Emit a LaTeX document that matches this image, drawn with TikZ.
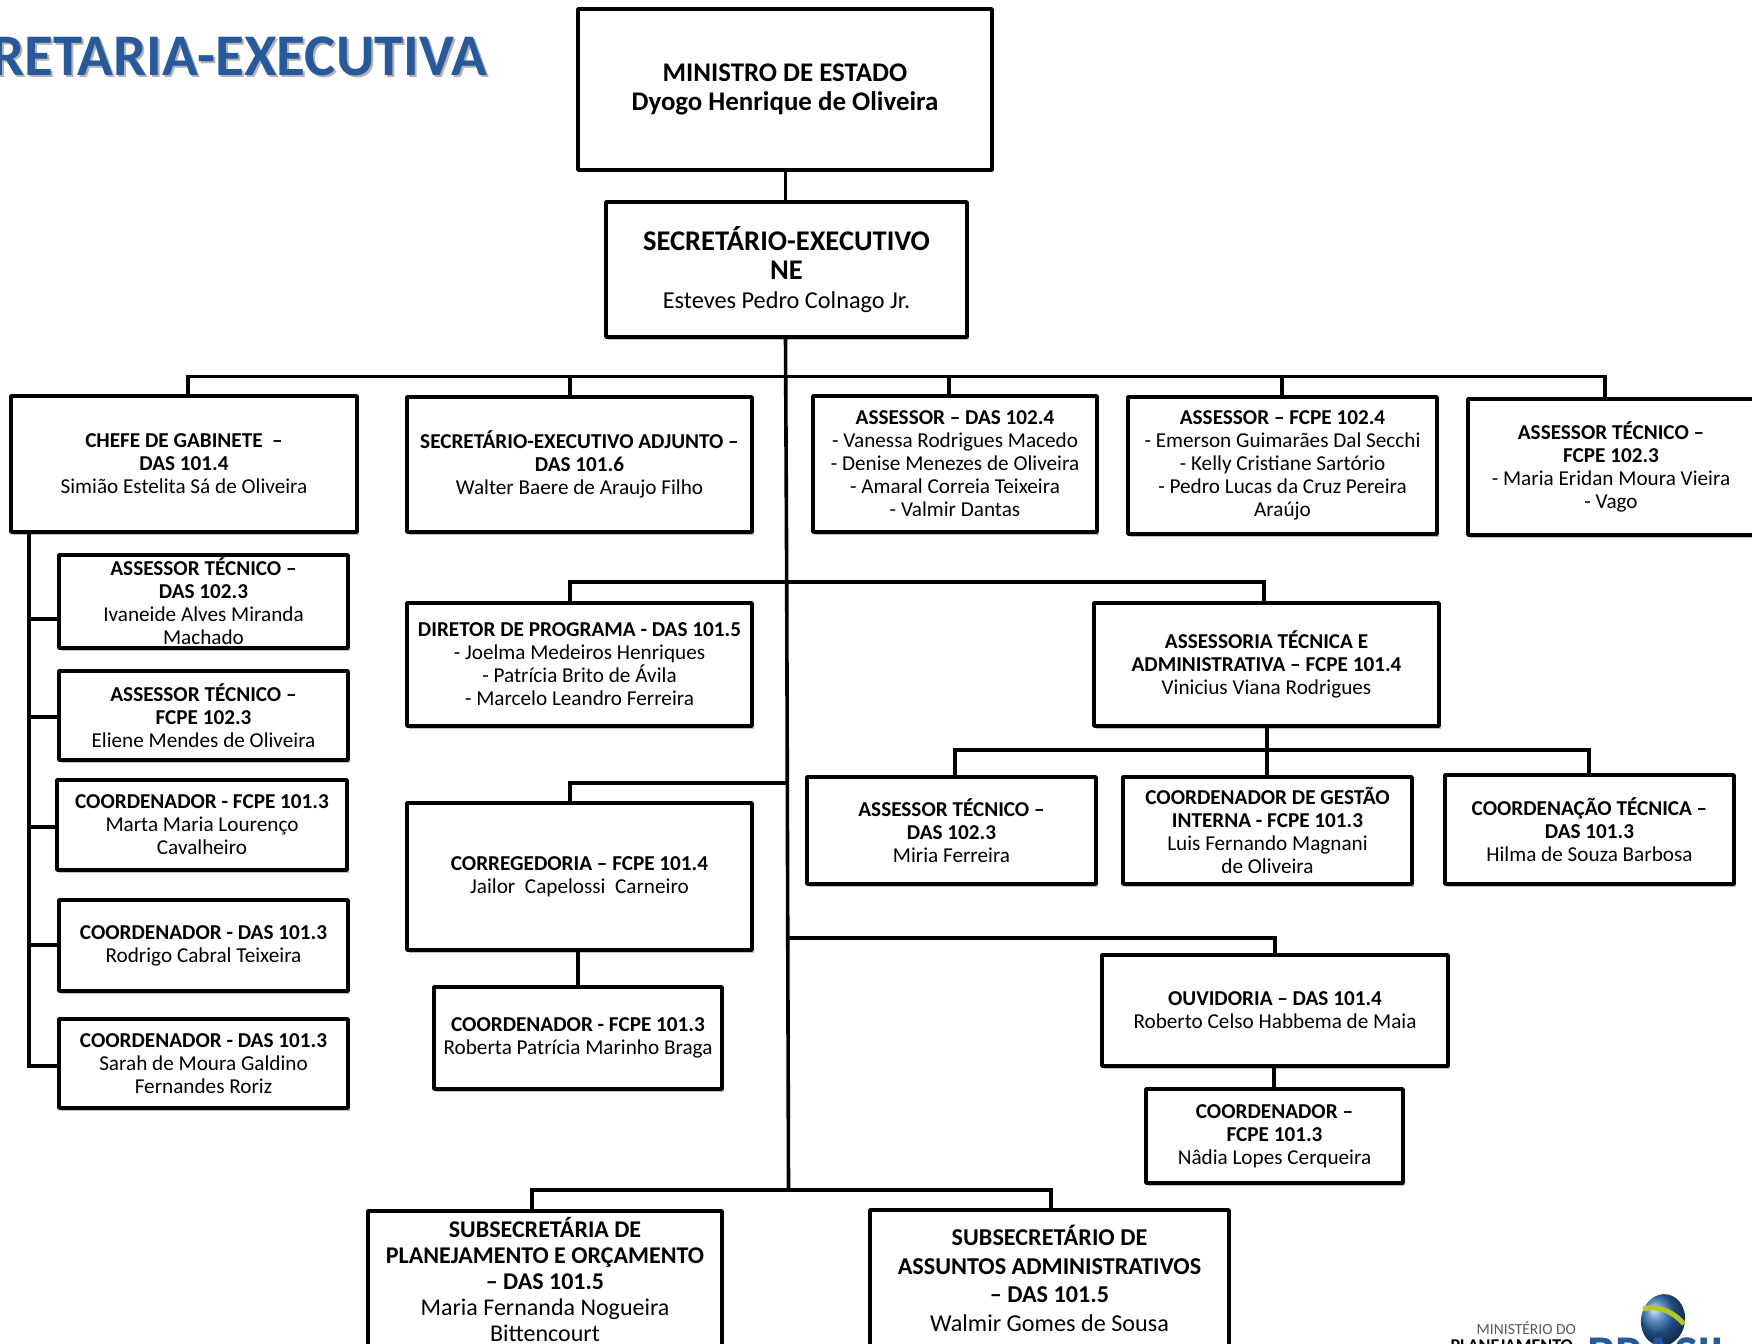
\documentclass[tikz,border=0pt]{standalone}
\usepackage{fontspec}
\setmainfont{Carlito}
\usetikzlibrary{shadows,calc}
\definecolor{titleblue}{HTML}{28599B}
\definecolor{globeblue}{HTML}{2A68AE}
\definecolor{globeband}{HTML}{B4C62A}
\newcommand\ob[7]{% name x0 y0 x1 y1 fontstyle text
  \pgfmathsetmacro\cxx{(#2+#4)/2}\pgfmathsetmacro\cyy{(#3+#5)/2}%
  \pgfmathsetmacro\wxx{#4-#2}\pgfmathsetmacro\hyy{#5-#3}%
  \node[orgbox,#6,minimum width=\wxx pt,minimum height=\hyy pt] (#1) at (\cxx,\cyy) {#7};}
\newcommand\bn{\bfseries}
\newcommand\nr{\normalfont}
\tikzset{
  orgbox/.style={draw=black,fill=white,line width=3.6pt,line join=round,inner sep=0pt,outer sep=0pt,align=center,
    text=black,drop shadow={shadow xshift=1.5pt,shadow yshift=-2.5pt,opacity=.25,fill=black}},
  fnorm/.style={font=\fontsize{21.2}{23}\selectfont},
  flarge/.style={font=\fontsize{26.9}{29}\selectfont},
  fsub/.style={font=\fontsize{24}{26}\selectfont},
  fsubb/.style={font=\fontsize{24.2}{28.5}\selectfont},
  conn/.style={draw=black,line width=3.6pt,line cap=rect,line join=miter},
}
\begin{document}
\begin{tikzpicture}[x=1pt,y=-1pt]
\useasboundingbox (0,0) rectangle (1752,1343);
\clip (0,0) rectangle (1752,1343);
% title
\node[anchor=base west,inner sep=0pt,text=black,opacity=.3,font=\fontsize{59}{64}\selectfont\bfseries] (titleshadow) at (-7,78) {RETARIA-EXECUTIVA};
\node[anchor=base west,inner sep=0pt,text=titleblue,font=\fontsize{59}{64}\selectfont\bfseries] (title) at (-9,76) {RETARIA-EXECUTIVA};
% boxes
\ob{min}{578}{9}{992}{170}{flarge}{\bn MINISTRO DE ESTADO\\\bn Dyogo Henrique de Oliveira}
\ob{sec}{606}{202}{967}{337}{flarge}{\fontsize{28.5}{30}\selectfont\bn SECRETÁRIO-EXECUTIVO\\\fontsize{28.5}{30}\selectfont\bn NE\\\nr\fontsize{24.3}{26}\selectfont Esteves Pedro Colnago Jr.}
\ob{chefe}{11}{396}{357}{532}{fnorm}{\bn CHEFE DE GABINETE \ –\\\bn DAS 101.4\\\nr Simião Estelita Sá de Oliveira}
\ob{adj}{407}{397}{752}{532}{fnorm}{\bn SECRETÁRIO-EXECUTIVO ADJUNTO –\\\bn DAS 101.6\\\nr Walter Baere de Araujo Filho}
\ob{asa}{813}{396}{1097}{532}{fnorm}{\bn ASSESSOR – DAS 102.4\\\nr - Vanessa Rodrigues Macedo\\\nr - Denise Menezes de Oliveira\\\nr - Amaral Correia Teixeira\\\nr - Valmir Dantas}
\ob{asb}{1128}{397}{1437}{534}{fnorm}{\bn ASSESSOR – FCPE 102.4\\\nr - Emerson Guimarães Dal Secchi\\\nr - Kelly Cristiane Sartório\\\nr - Pedro Lucas da Cruz Pereira\\\nr Araújo}
\ob{asc}{1468}{399}{1754}{535}{fnorm}{\bn ASSESSOR TÉCNICO –\\\bn FCPE 102.3\\\nr - Maria Eridan Moura Vieira\\\nr - Vago}
\ob{la}{59}{555}{348}{648}{fnorm}{\bn ASSESSOR TÉCNICO –\\\bn DAS 102.3\\\nr Ivaneide Alves Miranda\\\nr Machado}
\ob{lb}{59}{671}{348}{760}{fnorm}{\bn ASSESSOR TÉCNICO –\\\bn FCPE 102.3\\\nr Eliene Mendes de Oliveira}
\ob{lc}{57}{780}{347}{870}{fnorm}{\bn COORDENADOR - FCPE 101.3\\\nr Marta Maria Lourenço\\\nr Cavalheiro}
\ob{ld}{59}{900}{348}{991}{fnorm}{\bn COORDENADOR - DAS 101.3\\\nr Rodrigo Cabral Teixeira}
\ob{le}{59}{1019}{348}{1108}{fnorm}{\bn COORDENADOR - DAS 101.3\\\nr Sarah de Moura Galdino\\\nr Fernandes Roriz}
\ob{dir}{407}{603}{752}{726}{fnorm}{\bn DIRETOR DE PROGRAMA - DAS 101.5\\\nr - Joelma Medeiros Henriques\\\nr - Patrícia Brito de Ávila\\\nr - Marcelo Leandro Ferreira}
\ob{ata}{1094}{603}{1439}{726}{fnorm}{\bn ASSESSORIA TÉCNICA E\\\bn ADMINISTRATIVA – FCPE 101.4\\\nr Vinicius Viana Rodrigues}
\ob{miria}{807}{777}{1096}{884}{fnorm}{\bn ASSESSOR TÉCNICO –\\\bn DAS 102.3\\\nr Miria Ferreira}
\ob{gest}{1123}{777}{1412}{884}{fnorm}{\bn COORDENADOR DE GESTÃO\\\bn INTERNA - FCPE 101.3\\\nr Luis Fernando Magnani\\\nr de Oliveira}
\ob{ctec}{1445}{775}{1734}{884}{fnorm}{\bn COORDENAÇÃO TÉCNICA –\\\bn DAS 101.3\\\nr Hilma de Souza Barbosa}
\ob{corr}{407}{803}{752}{950}{fnorm}{\bn CORREGEDORIA – FCPE 101.4\\\nr Jailor \ Capelossi \ Carneiro}
\ob{rob}{434}{987}{722}{1089}{fnorm}{\bn COORDENADOR - FCPE 101.3\\\nr Roberta Patrícia Marinho Braga}
\ob{ouv}{1102}{955}{1448}{1066}{fnorm}{\bn OUVIDORIA – DAS 101.4\\\nr Roberto Celso Habbema de Maia}
\ob{nad}{1146}{1089}{1403}{1183}{fnorm}{\bn COORDENADOR –\\\bn FCPE 101.3\\\nr Nâdia Lopes Cerqueira}
\ob{spo}{368}{1211}{722}{1347}{fsub}{\bn SUBSECRETÁRIA DE\\\bn PLANEJAMENTO E ORÇAMENTO\\\bn – DAS 101.5\\\nr Maria Fernanda Nogueira\\\nr Bittencourt}
\ob{saa}{870}{1210}{1229}{1347}{fsubb}{\bn SUBSECRETÁRIO DE\\\bn ASSUNTOS ADMINISTRATIVOS\\\bn – DAS 101.5\\\nr Walmir Gomes de Sousa}
% trunk
\coordinate (bus) at (785.5,376.5);
\coordinate (busw) at (188,376.5);
\coordinate (buse) at (1605,376.5);
\coordinate (tb) at (786.7,582);
\coordinate (tc) at (787,782.7);
\coordinate (td) at (788,938);
\coordinate (te) at (788.5,1190);
\draw[conn] (min.south -| bus) -- (sec.north -| bus);
\draw[conn] (sec.south -| bus) -- (tb) -- (te);
\draw[conn] (chefe.north -| busw) -- (busw) -- (buse) -- (asc.north -| buse);
\coordinate (adjx) at (570,0);\coordinate (asax) at (949,0);\coordinate (asbx) at (1282,0);
\draw[conn] (bus -| adjx) -- (adj.north -| adjx);
\draw[conn] (bus -| asax) -- (asa.north -| asax);
\draw[conn] (bus -| asbx) -- (asb.north -| asbx);
% second level
\coordinate (atax) at (1264,0);
\draw[conn] (dir.north -| adjx) -- (tb -| adjx) -- (tb -| atax) -- (ata.north -| atax);
\draw[conn] (corr.north -| adjx) -- (tc -| adjx) -- (tc);
\coordinate (ouvx) at (1275,0);
\draw[conn] (td) -- (td -| ouvx) -- (ouv.north -| ouvx);
% bottom
\coordinate (spox) at (532,0);\coordinate (saax) at (1051,0);
\draw[conn] (spo.north -| spox) -- (te -| spox) -- (te -| saax) -- (saa.north -| saax);
% assessoria children
\coordinate (ax) at (1267,0);\coordinate (ay) at (0,750);
\coordinate (mx) at (955,0);\coordinate (cx) at (1589,0);
\draw[conn] (ata.south -| ax) -- (gest.north -| ax);
\draw[conn] (miria.north -| mx) -- (mx |- ay) -- (cx |- ay) -- (ctec.north -| cx);
% pairs
\coordinate (rx) at (578,0);\coordinate (nx) at (1274,0);
\draw[conn] (corr.south -| rx) -- (rob.north -| rx);
\draw[conn] (ouv.south -| nx) -- (nad.north -| nx);
% chefe side bus
\coordinate (sx) at (29,0);
\coordinate (ya) at (0,619);\coordinate (yb) at (0,717);\coordinate (yc) at (0,827);\coordinate (yd) at (0,945);\coordinate (ye) at (0,1066);
\draw[conn] (chefe.south -| sx) -- (sx |- ye) -- (le.west |- ye);
\draw[conn] (sx |- ya) -- (la.west |- ya);
\draw[conn] (sx |- yb) -- (lb.west |- yb);
\draw[conn] (sx |- yc) -- (lc.west |- yc);
\draw[conn] (sx |- yd) -- (ld.west |- yd);
% logo
\node[anchor=base east,inner sep=0pt,text=black!65,font=\fontsize{15.5}{15}\selectfont] (ministerio) at (1576,1334) {MINISTÉRIO DO};
\node[anchor=base east,inner sep=0pt,text=black,font=\fontsize{18}{17}\selectfont\bfseries] (planej) at (1573,1351) {PLANEJAMENTO};
\shade[ball color=globeblue,rotate around={-10:(1663,1320)}] (1663,1320) ellipse (22 and 26);
\draw[draw=globeband,line width=5pt] (1643,1309) .. controls (1655,1305) and (1672,1310) .. (1684,1324);
\node[anchor=base,inner sep=0pt,text=titleblue,font=\fontsize{50}{50}\selectfont\bfseries] (brasil) at (1660,1370) {BRASIL};
\end{tikzpicture}
\end{document}
